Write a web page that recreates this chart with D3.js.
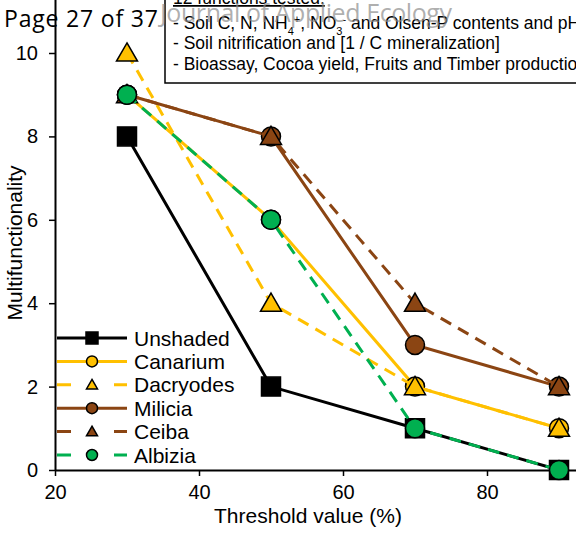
<!DOCTYPE html>
<html>
<head>
<meta charset="utf-8">
<script src="https://cdn.jsdelivr.net/npm/d3@7"></script>
<style>
  body { margin: 0; background: #fff; }
  svg { display: block; font-family: Arial, "Liberation Sans", sans-serif; }
</style>
</head>
<body>
<script>
// data
var thresholds = [30, 50, 70, 90];
var seriesNames = ["Unshaded", "Canarium", "Dacryodes", "Milicia", "Ceiba", "Albizia"];
var unshaded  = [8, 2, 1, 0];
var canarium  = [9, 6, 2, 1];
var dacryodes = [10, 4, 2, 1];
var milicia   = [9, 8, 3, 2];
var ceiba     = [9, 8, 4, 2];
var albizia   = [9, 6, 1, 0];
var xTicks = [20, 40, 60, 80];
var yTicks = [0, 2, 4, 6, 8, 10];

var W = 576, H = 533;

// styling per series
var gold = "#FFC000", brown = "#8B4513", green = "#00B050";
var series = [
  {name: seriesNames[0], vals: unshaded,  color: "#000", fill: "#000", dash: null,  shape: "square"},
  {name: seriesNames[1], vals: canarium,  color: gold,   fill: gold,   dash: null,  shape: "circle"},
  {name: seriesNames[2], vals: dacryodes, color: gold,   fill: gold,   dash: "12,8", shape: "triangle"},
  {name: seriesNames[3], vals: milicia,   color: brown,  fill: brown,  dash: null,  shape: "circle"},
  {name: seriesNames[4], vals: ceiba,     color: brown,  fill: brown,  dash: "12,8", shape: "triangle"},
  {name: seriesNames[5], vals: albizia,   color: green,  fill: green,  dash: "12,8", shape: "circle"}
];

var svg = d3.select("body").append("svg")
    .attr("width", W)
    .attr("height", H);

// scales
var x = d3.scaleLinear().domain([20, 90]).range([55, 559]);
var y = d3.scaleLinear().domain([0, 10]).range([470, 53]);

// axes (line runs to the edge of the page)
var xAxisScale = x.copy().domain([20, x.invert(W + 2)]).range([55, W + 2]);
var yAxisScale = y.copy().domain([0, y.invert(-2)]).range([470, -2]);

var gx = svg.append("g")
    .attr("transform", "translate(0," + 470 + ")")
    .call(d3.axisBottom(xAxisScale).tickValues(xTicks).tickSize(6).tickPadding(9).tickSizeOuter(0));
var gy = svg.append("g")
    .attr("transform", "translate(" + 55 + ",0)")
    .call(d3.axisLeft(yAxisScale).tickValues(yTicks).tickSize(6).tickPadding(11).tickSizeOuter(0));

[gx, gy].forEach(function(g) {
  g.select(".domain").attr("stroke", "#000").attr("stroke-width", 2);
  g.selectAll(".tick line").attr("stroke", "#000").attr("stroke-width", 1.5);
  g.selectAll(".tick text").attr("fill", "#000").style("font-size", "20px").style("font-family", "Arial, 'Liberation Sans', sans-serif");
});

svg.append("text")
    .attr("x", 308).attr("y", 523)
    .attr("text-anchor", "middle")
    .style("font-size", "21px")
    .text("Threshold value (%)");

svg.append("text")
    .attr("transform", "translate(22,243) rotate(-90)")
    .attr("text-anchor", "middle")
    .style("font-size", "21px")
    .text("Multifunctionality");

// marker helper
function marker(sel, shape, size, fill) {
  var s;
  if (shape === "square") s = d3.symbolSquare;
  else if (shape === "triangle") s = d3.symbolTriangle;
  else s = d3.symbolCircle;
  var area;
  if (shape === "square") area = size * size;
  else if (shape === "circle") area = Math.PI * size * size / 4;
  else area = size * size * Math.sqrt(3) / 4;
  sel.append("path")
    .attr("d", d3.symbol().type(s).size(area))
    .attr("fill", fill)
    .attr("stroke", "#000")
    .attr("stroke-width", 1.5);
}

var line = d3.line()
    .x(function(d, i) { return x(thresholds[i]); })
    .y(function(d) { return y(d); });

series.forEach(function(s) {
  var g = svg.append("g");
  g.append("path")
    .datum(s.vals)
    .attr("d", line)
    .attr("fill", "none")
    .attr("stroke", s.color)
    .attr("stroke-width", 3)
    .attr("stroke-dasharray", s.dash);
  s.vals.forEach(function(v, i) {
    var m = g.append("g")
      .attr("transform", "translate(" + x(thresholds[i]) + "," + (y(v) + (s.shape === "triangle" ? 2 : 0)) + ")");
    marker(m, s.shape, s.shape === "triangle" ? 21 : 19, s.fill);
  });
});

// legend
var leg = svg.append("g");
series.forEach(function(s, i) {
  var yy = 338 + i * 23.4;
  leg.append("line")
    .attr("x1", 57).attr("x2", 127)
    .attr("y1", yy).attr("y2", yy)
    .attr("stroke", s.color)
    .attr("stroke-width", 3)
    .attr("stroke-dasharray", s.dash ? "14,43" : null);
  var m = leg.append("g").attr("transform", "translate(92," + (yy + (s.shape === "triangle" ? 1 : 0)) + ")");
  marker(m, s.shape, s.shape === "square" ? 12 : 11, s.fill);
  leg.append("text")
    .attr("x", 134).attr("y", yy)
    .attr("dy", "0.36em")
    .style("font-size", "21px")
    .text(s.name);
});

// note box in the top right corner
svg.append("rect")
    .attr("x", 165).attr("y", -10)
    .attr("width", W).attr("height", 93)
    .attr("fill", "#fff")
    .attr("stroke", "#000")
    .attr("stroke-width", 1.5);

var note = svg.append("g").style("font-size", "17.5px");
note.append("text")
    .attr("x", 173).attr("y", 4)
    .attr("text-decoration", "underline")
    .text("12 functions tested:");
var t1 = note.append("text").attr("x", 173).attr("y", 29);
t1.append("tspan").text("- Soil C, N, NH");
t1.append("tspan").attr("baseline-shift", "sub").style("font-size", "11px").text("4");
t1.append("tspan").attr("baseline-shift", "super").style("font-size", "11px").text("+");
t1.append("tspan").text(", NO");
t1.append("tspan").attr("baseline-shift", "sub").style("font-size", "11px").text("3");
t1.append("tspan").attr("baseline-shift", "super").style("font-size", "11px").text("-");
t1.append("tspan").text(" and Olsen-P contents and pH");
note.append("text").attr("x", 173).attr("y", 49)
    .text("- Soil nitrification and [1 / C mineralization]");
note.append("text").attr("x", 173).attr("y", 70)
    .text("- Bioassay, Cocoa yield, Fruits and Timber production");

// page header and watermark
svg.append("text")
    .attr("x", 4).attr("y", 27)
    .attr("textLength", 154)
    .style("font-family", "'Open Sans', sans-serif")
    .style("font-size", "23px")
    .text("Page 27 of 37");
svg.append("text")
    .attr("x", 160).attr("y", 22)
    .attr("textLength", 292)
    .attr("fill", "#8c8c8c")
    .attr("fill-opacity", 0.7)
    .style("font-family", "'Open Sans', sans-serif")
    .style("font-size", "25px")
    .text("Journal of Applied Ecology");
</script>
</body>
</html>
